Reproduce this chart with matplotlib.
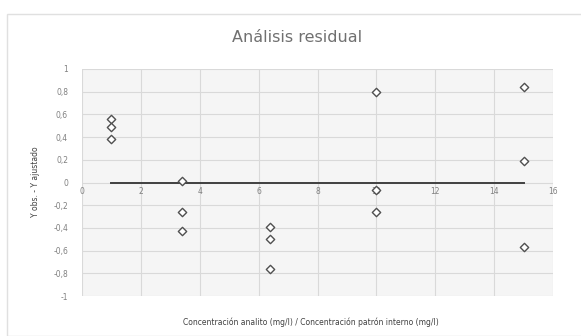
import matplotlib.pyplot as plt
from matplotlib.patches import Rectangle
from matplotlib.ticker import FuncFormatter

# residuals
x_conc = [1, 1, 1, 3.4, 3.4, 3.4, 6.4, 6.4, 6.4, 10, 10, 10, 15, 15, 15]
residuals = [0.56, 0.49, 0.38, 0.01, -0.26, -0.43, -0.39, -0.50, -0.76,
             0.80, -0.07, -0.26, 0.84, 0.19, -0.57]
zero_x = [1, 15]
zero_y = [0, 0]

x_ticks = [0, 2, 4, 6, 8, 10, 12, 14, 16]
y_ticks = [-1, -0.8, -0.6, -0.4, -0.2, 0, 0.2, 0.4, 0.6, 0.8, 1]

fig = plt.figure(figsize=(5.81, 3.36), dpi=100)
fig.patches.append(Rectangle((7 / 581, 0), 1, 1 - 14 / 336, transform=fig.transFigure,
                             fill=False, edgecolor='#e0e0e0', lw=1.0))

ax = fig.add_axes([82 / 581, 1 - 296 / 336, 471 / 581, 227 / 336])
ax.set_facecolor('#f5f5f5')

ax.plot(zero_x, zero_y, color='#404040', lw=1.4, zorder=3)
ax.scatter(x_conc, residuals, marker='D', s=18, facecolors='white',
           edgecolors='#505050', linewidths=1.0, zorder=4)

ax.set_xlim(0, 16)
ax.set_ylim(-1, 1)
ax.set_xticks(x_ticks)
ax.set_yticks(y_ticks)

fmt = FuncFormatter(lambda v, p: ('%g' % round(v, 1)).replace('.', ','))
ax.xaxis.set_major_formatter(fmt)
ax.yaxis.set_major_formatter(fmt)

ax.grid(True, color='#d9d9d9', lw=0.8)
ax.set_axisbelow(True)
for s in ax.spines.values():
    s.set_visible(False)

ax.tick_params(axis='both', length=0, labelsize=5.5, labelcolor='#808080')
ax.tick_params(axis='y', pad=10)
# x labels sit just under the zero line, like Excel
ax.xaxis.set_ticks_position('none')
ax.set_xticklabels([])
for t in x_ticks:
    ax.text(t, -0.04, fmt(t, None), ha='center', va='top', fontsize=5.5, color='#808080')

fig.text(297 / 581, 1 - 38 / 336, 'Análisis residual', ha='center', va='center',
         fontsize=11.5, color='#707070')
fig.text(35 / 581, 1 - 182 / 336, 'Y obs. - Y ajustado', rotation=90, ha='center',
         va='center', fontsize=5.5, color='#404040')
fig.text(311 / 581, 1 - 322 / 336,
         'Concentración analito (mg/l) / Concentración patrón interno (mg/l)',
         ha='center', va='center', fontsize=5.5, color='#404040')

fig.savefig('out.png', dpi=100, facecolor='white')
